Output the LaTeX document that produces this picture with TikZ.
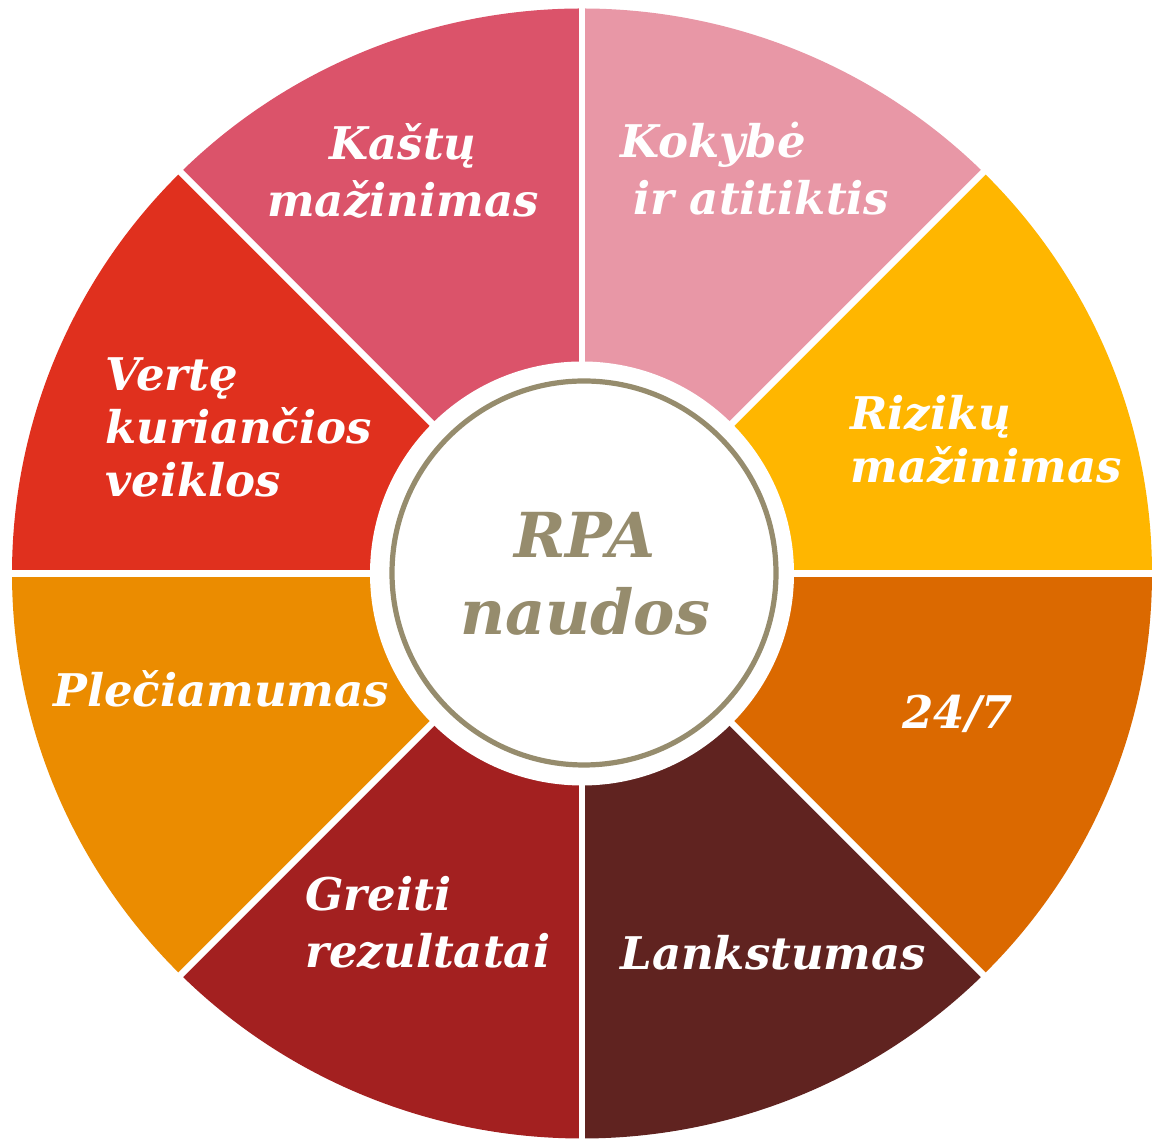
\documentclass[tikz,border=0pt]{standalone}
\usepackage{fontspec}
\setmainfont{DejaVu Serif}
\definecolor{cRisk}{HTML}{FFB600}
\definecolor{cQual}{HTML}{E897A6}
\definecolor{cCost}{HTML}{DB536A}
\definecolor{cValue}{HTML}{E0301E}
\definecolor{cScale}{HTML}{EB8C00}
\definecolor{cFast}{HTML}{A32020}
\definecolor{cFlex}{HTML}{602320}
\definecolor{cAllday}{HTML}{DB6900}
\definecolor{cRing}{HTML}{968C6D}
\tikzset{
  lbl/.style={text=white, font=\bfseries\itshape\fontsize{22.5}{28.5}\selectfont,
    inner sep=0pt, align=left, anchor=base west},
  tightlbl/.style={lbl, font=\bfseries\itshape\fontsize{22.5}{26.5}\selectfont},
  centerlbl/.style={text=cRing, font=\bfseries\itshape\fontsize{31}{38.5}\selectfont,
    inner sep=0pt, align=center, anchor=base}
}
\begin{document}
\begin{tikzpicture}[x=0.5pt,y=0.5pt]
\useasboundingbox (0,0) rectangle (1153,1145);
\fill[white] (0,0) rectangle (1153,1145);
\coordinate (C) at (582,571.5);
\coordinate (R) at (584,572);
\foreach \a/\c in {0/cRisk,45/cQual,90/cCost,135/cValue,180/cScale,225/cFast,270/cFlex,315/cAllday}
  \fill[\c] (C) -- ([shift={(C)}]\a:570 and 565)
    arc[start angle=\a, end angle=\a+45, x radius=570, y radius=565] -- cycle;
\foreach \a in {0,45,90,135}
  \draw[white, line width=3.25pt] ([shift={(C)}]\a:620) -- ([shift={(C)}]\a+180:620);
\fill[white] (C) circle[radius=212];
\draw[cRing, line width=2.6pt] (R) circle[radius=192];
\node[centerlbl] (center) at (585,510) {RPA\\naudos};
\node[lbl, align=center, anchor=base] (cost) at (403,928) {Kaštų\\mažinimas};
\node[lbl] (quality) at (620,930) {Kokybė\\\hspace*{6.5pt}ir atitiktis};
\node[tightlbl] (risk) at (850,662) {Rizikų\\mažinimas};
\node[lbl] (allday) at (902,416) {24/7};
\node[lbl] (flex) at (620,175) {Lankstumas};
\node[lbl] (fast) at (305,177) {Greiti\\rezultatai};
\node[lbl] (scale) at (53,438) {Plečiamumas};
\node[tightlbl] (value) at (105,648) {Vertę\\kuriančios\\veiklos};
\end{tikzpicture}
\end{document}
